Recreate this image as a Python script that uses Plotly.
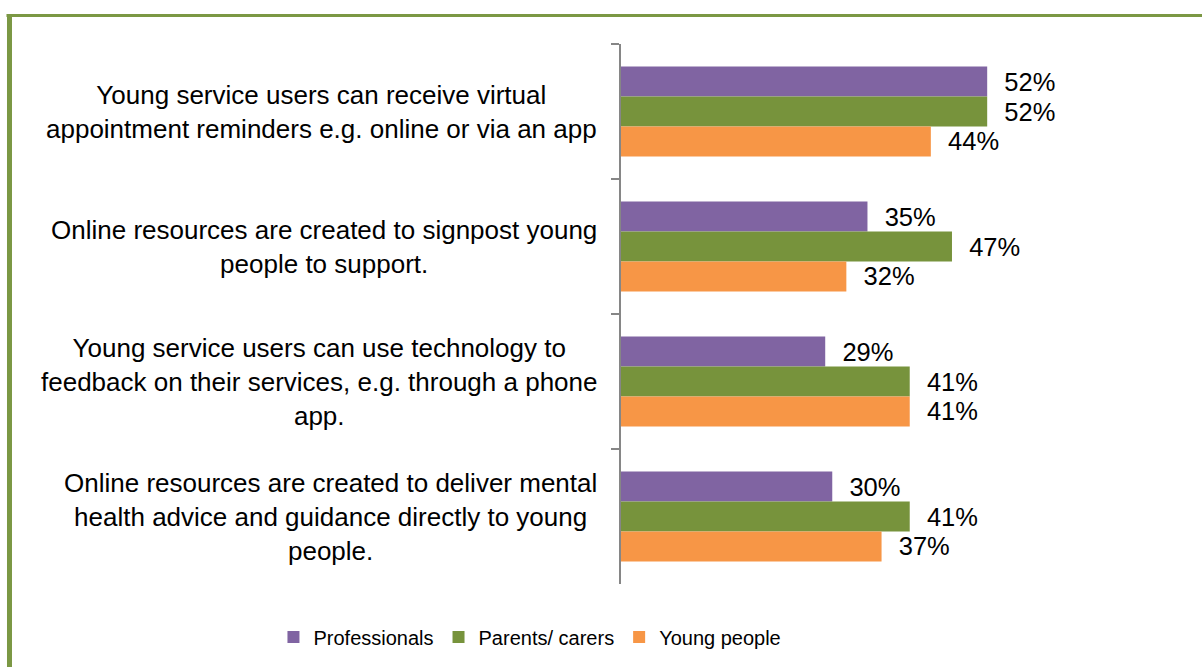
import plotly.graph_objects as go

categories = [
    "Young service users can receive virtual<br>appointment reminders e.g. online or via an app",
    "Online resources are created to signpost young<br>people to support.",
    "Young service users can use technology to<br>feedback on their services, e.g. through a phone<br>app.",
    "Online resources are created to deliver mental<br>health advice and guidance directly to young<br>people.",
]
series_names = ["Professionals", "Parents/ carers", "Young people"]
professionals = [52, 35, 29, 30]
parents = [52, 47, 41, 41]
young_people = [44, 32, 41, 37]
colors = ["#8064A2", "#77933C", "#F79646"]

FONT = "Liberation Sans"
fig = go.Figure()
for name, vals, col in zip(series_names, [professionals, parents, young_people], colors):
    fig.add_trace(go.Bar(
        y=categories, x=vals, name=name, orientation="h",
        marker=dict(color=col, line=dict(width=0)),
        texttemplate="\u00a0\u00a0%{x}%", textposition="outside",
        textfont=dict(size=25.5, color="#000000", family=FONT),
        constraintext="none", cliponaxis=False,
    ))

for cat in categories:
    fig.add_annotation(
        text=cat, xref="paper", x=0, xanchor="right", xshift=-22,
        yref="y", y=cat, yanchor="middle", showarrow=False, align="center",
        font=dict(size=26, color="#000000", family=FONT),
    )

# green frame
fig.add_shape(type="line", xref="paper", yref="paper", x0=-1.0747, x1=-1.0747,
              y0=1.0545, y1=-0.2, line=dict(color="#7B9844", width=5))
fig.add_shape(type="line", xref="paper", yref="paper", x0=-1.08, x1=1.05,
              y0=1.0527, y1=1.0527, line=dict(color="#7B9844", width=3))

fig.update_layout(
    width=1202, height=667,
    margin=dict(l=621, r=12, t=44, b=82),
    paper_bgcolor="white", plot_bgcolor="white",
    barmode="group", bargap=0.334, bargroupgap=0,
    font=dict(family=FONT, color="#000000"),
    showlegend=True,
    legend=dict(orientation="h", x=-0.16, xanchor="center", y=-0.096, yanchor="middle",
                font=dict(size=20, family=FONT, color="#000000"),
                traceorder="normal", itemwidth=30),
    xaxis=dict(range=[0, 80.8], visible=False, fixedrange=True),
    yaxis=dict(type="category", autorange="reversed", showticklabels=False,
               showline=True, linecolor="#868686", linewidth=2,
               ticks="outside", ticklen=8, tickwidth=2, tickcolor="#868686",
               tickson="boundaries", showgrid=False, zeroline=False),
)
fig.write_html("out.html")
